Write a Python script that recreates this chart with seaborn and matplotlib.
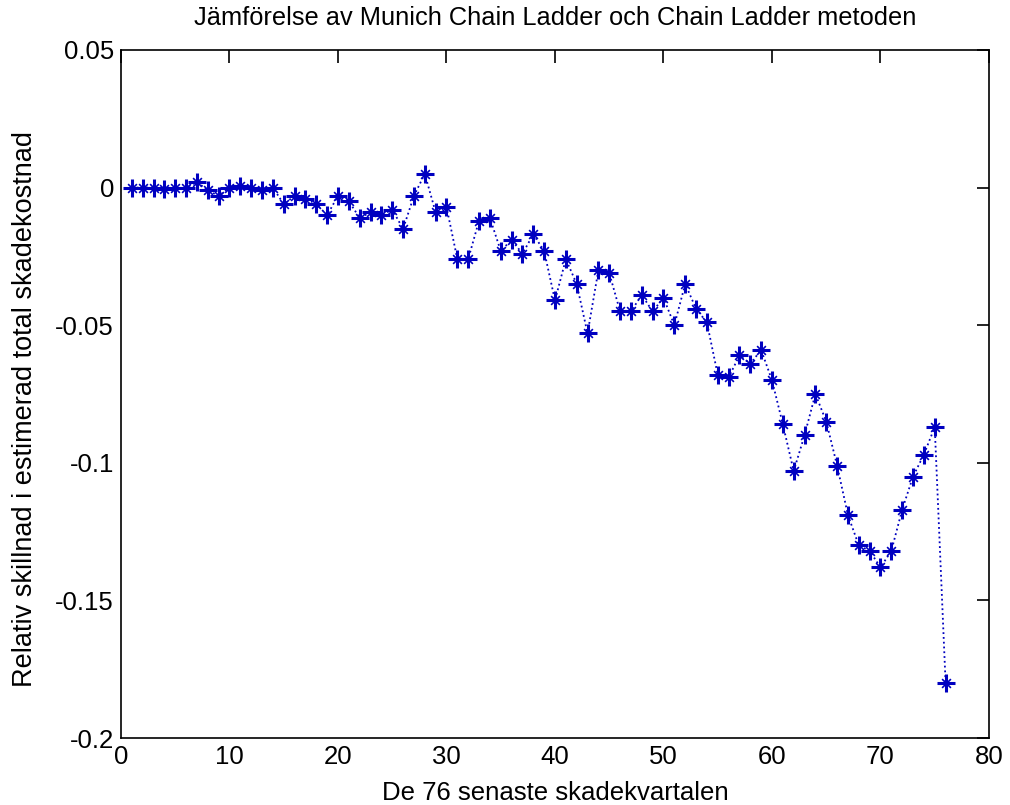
import numpy as np
import pandas as pd
import seaborn as sns
import matplotlib
matplotlib.use("Agg")
import matplotlib.pyplot as plt
from matplotlib.ticker import FuncFormatter

# Relative difference in estimated total claims cost, per accident quarter
quarters = list(range(1, 77))
rel_diff = [
    0.000, 0.000, 0.000, -0.0005, -0.0003, 0.000, 0.002, -0.001, -0.003, 0.000,
    0.0005, 0.000, -0.001, 0.000, -0.006, -0.003, -0.004, -0.006, -0.010, -0.003,
    -0.005, -0.011, -0.009, -0.010, -0.008, -0.015, -0.003, 0.005, -0.009, -0.007,
    -0.026, -0.026, -0.012, -0.011, -0.023, -0.019, -0.024, -0.017, -0.023, -0.041,
    -0.026, -0.035, -0.053, -0.030, -0.031, -0.045, -0.045, -0.039, -0.045, -0.040,
    -0.050, -0.035, -0.044, -0.049, -0.068, -0.069, -0.061, -0.064, -0.059, -0.070,
    -0.086, -0.103, -0.090, -0.075, -0.085, -0.101, -0.119, -0.130, -0.132, -0.138,
    -0.132, -0.117, -0.105, -0.097, -0.087, -0.180,
]

xticks = [0, 10, 20, 30, 40, 50, 60, 70, 80]
yticks = [-0.2, -0.15, -0.1, -0.05, 0, 0.05]

title = "Jämförelse av Munich Chain Ladder och Chain Ladder metoden"
xlabel = "De 76 senaste skadekvartalen"
ylabel = "Relativ skillnad i estimerad total skadekostnad"

df = pd.DataFrame({"kvartal": quarters, "skillnad": rel_diff})

sns.set_style("white")
plt.rcParams["font.family"] = ["Liberation Sans", "DejaVu Sans"]
plt.rcParams["axes.unicode_minus"] = False
plt.rcParams["text.color"] = "black"
plt.rcParams["axes.labelcolor"] = "black"

fig = plt.figure(figsize=(10.10, 8.05), dpi=100)
ax = fig.add_axes([0.1198, 0.0832, 0.8594, 0.8547])

blue = "#0000c0"
# dotted connecting line with '+' part of the asterisk marker
sns.lineplot(data=df, x="kvartal", y="skillnad", ax=ax, color=blue,
             linestyle=":", linewidth=1.3, marker="+", markersize=13,
             markeredgewidth=2.2, markeredgecolor=blue)
# diagonal part of the asterisk marker
sns.scatterplot(data=df, x="kvartal", y="skillnad", ax=ax, color=blue,
                marker="x", s=40, linewidth=1.2, zorder=3)

ax.set_xlim(0, 80)
ax.set_ylim(-0.2, 0.05)
ax.set_xticks(xticks)
ax.set_yticks(yticks)
ax.yaxis.set_major_formatter(FuncFormatter(lambda v, p: f"{v:g}"))
ax.tick_params(direction="in", length=9, width=1.2, top=True, right=True,
               labelsize=18.5, colors="black", pad=5)
for s in ax.spines.values():
    s.set_visible(True)
    s.set_color("black")
    s.set_linewidth(1.2)

ax.set_title(title, fontsize=18.3, pad=18, color="black")
ax.set_xlabel(xlabel, fontsize=18.5, labelpad=9)
ax.set_ylabel(ylabel, fontsize=19.5)
ax.yaxis.set_label_coords(-0.096, 0.478)

fig.savefig("out.png", dpi=100, facecolor="white")
